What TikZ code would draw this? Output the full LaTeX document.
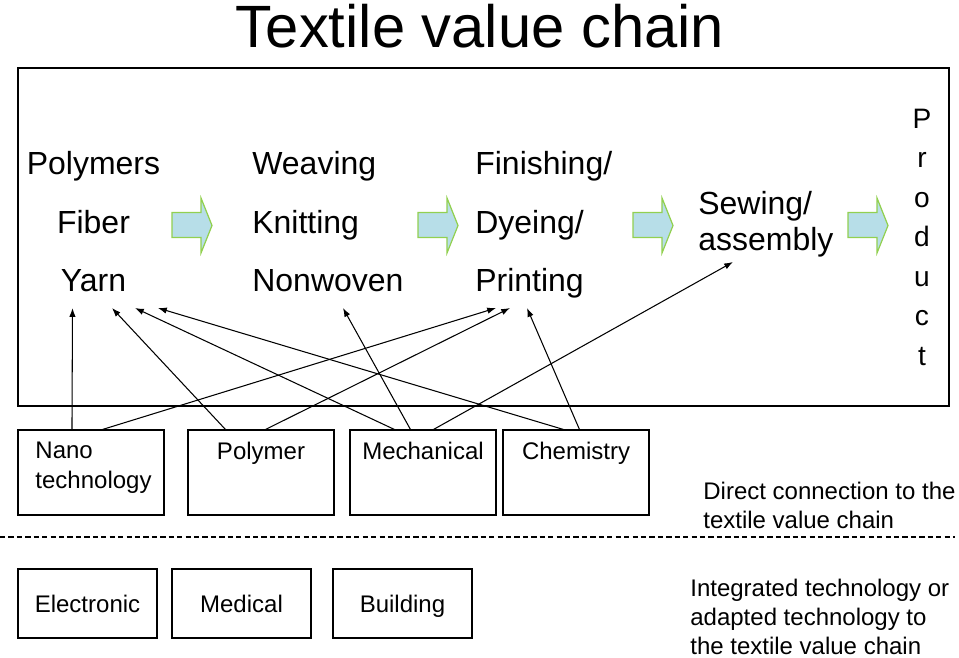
\documentclass[tikz,border=0pt]{standalone}
\usepackage{fontspec}
\setmainfont{Liberation Sans}
\usetikzlibrary{arrows.meta,positioning}
\definecolor{arrowfill}{HTML}{B7DEE8}
\definecolor{arrowedge}{HTML}{92D050}
\newcommand{\pxu}{0.02cm}

\begin{document}
\begin{tikzpicture}[x=\pxu, y=-\pxu,
  stage/.style={inner sep=0pt, anchor=base west, font=\fontsize{18.2}{22}\selectfont},
  prodletter/.style={inner sep=0pt, anchor=base, font=\fontsize{16}{19}\selectfont},
  techbox/.style={draw, line width=0.6pt, minimum width=146*\pxu, minimum height=85*\pxu, inner sep=0pt},
  techtext/.style={inner sep=0pt, align=left, font=\fontsize{13.66}{16.8}\selectfont},
  appbox/.style={draw, line width=0.6pt, minimum width=139*\pxu, minimum height=69*\pxu, inner sep=0pt,
    text height=9.8pt, text depth=0pt, font=\fontsize{13.66}{16.8}\selectfont},
  note/.style={inner sep=0pt, anchor=north west, align=left, font=\fontsize{13.66}{16.5}\selectfont},
  blockarrow/.style={draw=arrowedge, fill=arrowfill, line width=0.7pt, line join=miter},
  arr/.style={-{Latex[length=5pt,width=3.6pt]}, line width=0.6pt}
]
  \useasboundingbox (0,0) rectangle (959,657);

  % title and chain frame
  \node[inner sep=0pt, anchor=base, font=\fontsize{34}{40}\selectfont] (title) at (480,47) {Textile value chain};
  \draw[line width=0.8pt] (18,68) rectangle (949,406);

  % stages of the chain
  \node[stage, anchor=base] (polymers) at (93.5,174.5) {Polymers};
  \node[stage, anchor=base] (fiber) at (93.5,233) {Fiber};
  \node[stage, anchor=base] (yarn) at (93.5,291.5) {Yarn};
  \node[stage] (weaving) at (252,174.5) {Weaving};
  \node[stage] (knitting) at (252,233) {Knitting};
  \node[stage] (nonwoven) at (252,291.5) {Nonwoven};
  \node[stage] (finishing) at (475,174.5) {Finishing/};
  \node[stage] (dyeing) at (475,233) {Dyeing/};
  \node[stage] (printing) at (475,291.5) {Printing};
  \node[stage] (sewing) at (698,214) {Sewing/};
  \node[stage] (assembly) at (698,250) {assembly};
  \foreach \ch [count=\i from 0] in {P,r,o,d,u,c,t}
    \node[prodletter] (prod\i) at (922,{128+39.5*\i}) {\ch};

  % block arrows between the stages
  \foreach \ax in {172,418,633,848}
    \draw[blockarrow] (\ax,212.5) -- ++(29,0) -- ++(0,-14.5) -- ++(11,27.5)
      -- ++(-11,27.5) -- ++(0,-15.5) -- ++(-29,0) -- cycle;

  % technologies with a direct connection
  \node[techbox] (nano) at (91,472.5) {};
  \node[techbox] (polymer) at (261,472.5) {};
  \node[techbox] (mechanical) at (423,472.5) {};
  \node[techbox] (chemistry) at (576,472.5) {};
  \node[techtext, below=0.25cm of nano.north, xshift=0.05cm] (nanotext) {Nano\\technology};
  \node[techtext, below=0.25cm of polymer.north] (polymertext) {Polymer};
  \node[techtext, below=0.25cm of mechanical.north] (mechanicaltext) {Mechanical};
  \node[techtext, below=0.25cm of chemistry.north] (chemistrytext) {Chemistry};

  \coordinate (yarnA) at (72.5,308);
  \coordinate (yarnB) at (112,308);
  \coordinate (yarnC) at (135,308);
  \coordinate (yarnD) at (158,308);
  \coordinate (nonwovenA) at (343,308);
  \coordinate (printA) at (496,308);
  \coordinate (printB) at (510,308);
  \coordinate (printC) at (527,308);
  \coordinate (sewingA) at (733,262);

  \draw[arr] ([xshift=54.5*\pxu]nano.north west) -- (yarnA);
  \draw[arr] ([xshift=85*\pxu]nano.north west) -- (printA);
  \draw[arr] ([xshift=38*\pxu]polymer.north west) -- (yarnB);
  \draw[arr] ([xshift=78*\pxu]polymer.north west) -- (printB);
  \draw[arr] ([xshift=45*\pxu]mechanical.north west) -- (yarnC);
  \draw[arr] ([xshift=61*\pxu]mechanical.north west) -- (nonwovenA);
  \draw[arr] ([xshift=84*\pxu]mechanical.north west) -- (sewingA);
  \draw[arr] ([xshift=61*\pxu]chemistry.north west) -- (yarnD);
  \draw[arr] ([xshift=77*\pxu]chemistry.north west) -- (printC);

  \node[note] (direct) at (703,481.5) {Direct connection to the\\textile value chain};

  % separator
  \draw[line width=0.6pt, dash pattern=on 3pt off 1.8pt] (0,537) -- (955,537);

  % adapted technologies
  \node[appbox] (electronic) at (87.5,603.5) {Electronic};
  \node[appbox] (medical) at (241.5,603.5) {Medical};
  \node[appbox] (building) at (402.5,603.5) {Building};
  \node[note] (integrated) at (690,579) {Integrated technology or\\adapted technology to\\the textile value chain};
\end{tikzpicture}
\end{document}
